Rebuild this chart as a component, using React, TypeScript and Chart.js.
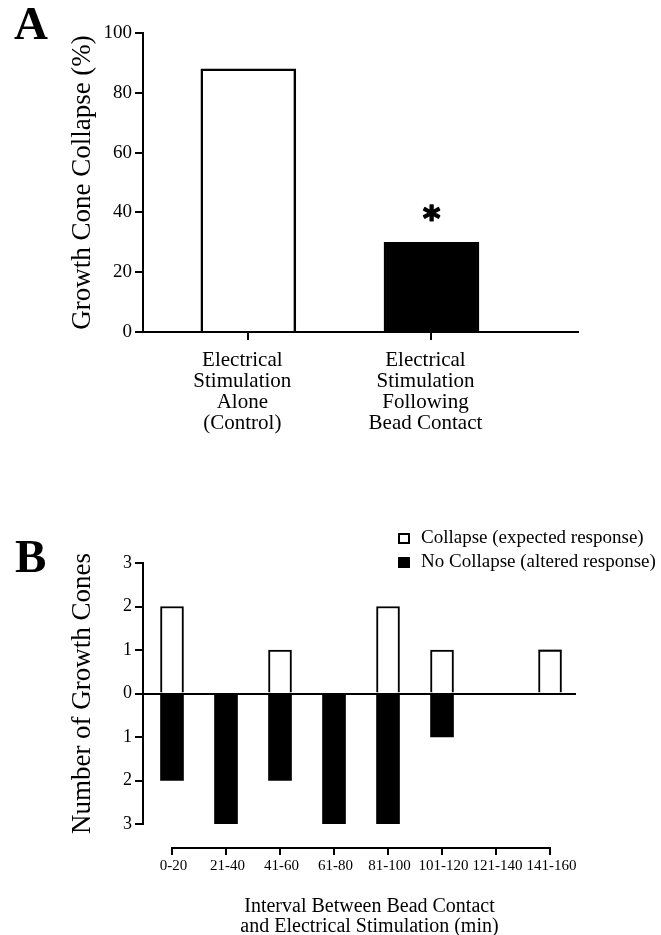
import React, { useEffect, useRef } from 'react';
import { Chart, registerables } from 'chart.js';

Chart.register(...registerables);

const SERIF = "'Liberation Serif', 'Times New Roman', serif";
Chart.defaults.font.family = SERIF;
Chart.defaults.color = '#000';

// ---------- Panel A data ----------
const conditionLabels: string[][] = [
  ['Electrical', 'Stimulation', 'Alone', '(Control)'],
  ['Electrical', 'Stimulation', 'Following', 'Bead Contact'],
];
const collapsePercent: number[] = [88, 30];
const yTitleA = 'Growth Cone Collapse (%)';

// ---------- Panel B data ----------
const intervalLabels: string[] = ['0-20', '21-40', '41-60', '61-80', '81-100', '101-120', '121-140', '141-160'];
const collapseCounts: number[] = [2, 0, 1, 0, 2, 1, 0, 1];
const noCollapseCounts: number[] = [2, 3, 2, 3, 3, 1, 0, 0];
const seriesLabelsB: string[] = ['Collapse (expected response)', 'No Collapse (altered response)'];
const yTitleB = 'Number of Growth Cones';
const xTitleB: string[] = ['Interval Between Bead Contact', 'and Electrical Stimulation (min)'];

const W = 661;
const HA = 470;
const HB = 465;

function panelLabel(text: string, x: number, baseline: number) {
  return {
    id: 'panelLabel' + text,
    afterDraw(chart: any) {
      const ctx = chart.ctx;
      ctx.save();
      ctx.font = `bold 47px ${SERIF}`;
      ctx.fillStyle = '#000';
      ctx.textAlign = 'left';
      ctx.textBaseline = 'alphabetic';
      ctx.fillText(text, x, baseline);
      ctx.restore();
    },
  };
}

const asteriskPlugin = {
  id: 'asterisk',
  afterDatasetsDraw(chart: any) {
    const { ctx, scales } = chart;
    const cx = scales.x.getPixelForValue(2);
    const cy = scales.y.getPixelForValue(collapsePercent[1]) - 29;
    ctx.save();
    ctx.font = `bold 100px 'DejaVu Sans'`;
    let m = ctx.measureText('*');
    const h = m.actualBoundingBoxAscent + m.actualBoundingBoxDescent;
    const size = (100 * 15.5) / (h || 40);
    ctx.font = `bold ${size}px 'DejaVu Sans'`;
    m = ctx.measureText('*');
    const gw = m.actualBoundingBoxRight + m.actualBoundingBoxLeft;
    const x = cx - gw / 2 + m.actualBoundingBoxLeft;
    const y = cy + (m.actualBoundingBoxAscent - m.actualBoundingBoxDescent) / 2;
    ctx.fillStyle = '#000';
    ctx.strokeStyle = '#000';
    ctx.lineWidth = 1.6;
    ctx.lineJoin = 'round';
    ctx.textAlign = 'left';
    ctx.textBaseline = 'alphabetic';
    ctx.fillText('*', x, y);
    ctx.strokeText('*', x, y);
    ctx.restore();
  },
};

const offsetAxisB = {
  id: 'offsetAxisB',
  afterDraw(chart: any) {
    const { ctx, chartArea, scales } = chart;
    const x = scales.x;
    const y0 = chartArea.bottom + 24;
    const x0 = x.getPixelForValue(0);
    const x1 = x.getPixelForValue(intervalLabels.length - 1);
    ctx.save();
    ctx.strokeStyle = '#000';
    ctx.lineWidth = 2;
    ctx.beginPath();
    ctx.moveTo(x0 - 1, y0);
    ctx.lineTo(x1 + 1, y0);
    intervalLabels.forEach((_, i) => {
      const px = Math.round(x.getPixelForValue(i));
      ctx.moveTo(px, y0);
      ctx.lineTo(px, y0 + 7);
    });
    ctx.stroke();
    ctx.font = `20px ${SERIF}`;
    ctx.fillStyle = '#000';
    ctx.textAlign = 'center';
    ctx.textBaseline = 'alphabetic';
    const cx = (chartArea.left + chartArea.right) / 2 + 10;
    xTitleB.forEach((t, i) => ctx.fillText(t, cx, chartArea.bottom + 88 + i * 20));
    ctx.restore();
  },
};

const legendB = {
  id: 'legendB',
  afterDraw(chart: any) {
    const ctx = chart.ctx;
    ctx.save();
    ctx.font = `19px ${SERIF}`;
    ctx.textAlign = 'left';
    ctx.textBaseline = 'alphabetic';
    chart.data.datasets.forEach((ds: any, i: number) => {
      const base = 73 + i * 24;
      const bx = 398;
      ctx.fillStyle = ds.backgroundColor;
      ctx.fillRect(bx, base - 10, 12, 11);
      ctx.strokeStyle = '#000';
      ctx.lineWidth = 2;
      ctx.strokeRect(bx + 1, base - 9, 10, 9);
      ctx.fillStyle = '#000';
      ctx.fillText(ds.label, 421, base);
    });
    ctx.restore();
  },
};

export default function App() {
  const refA = useRef<HTMLCanvasElement>(null);
  const refB = useRef<HTMLCanvasElement>(null);

  useEffect(() => {
    if (!refA.current || !refB.current) return;

    const chartA = new Chart(refA.current, {
      type: 'bar',
      data: {
        datasets: [
          {
            label: 'Growth cone collapse',
            data: collapsePercent.map((v, i) => ({ x: i + 1, y: v })) as any,
            backgroundColor: ['#ffffff', '#000000'],
            borderColor: '#000000',
            borderWidth: 2.5,
            barThickness: 95,
          },
        ],
      },
      options: {
        responsive: false,
        animation: false,
        layout: { padding: { left: 0, right: W - 578, top: 33, bottom: 0 } },
        plugins: { legend: { display: false }, tooltip: { enabled: false } },
        scales: {
          x: {
            type: 'linear',
            min: 0.425,
            max: 2.8,
            offset: false,
            afterBuildTicks: (s: any) => {
              s.ticks = conditionLabels.map((_, i) => ({ value: i + 1 }));
            },
            afterFit: (s: any) => {
              s.height = HA - 332;
            },
            ticks: {
              callback: (v: any) => conditionLabels[Number(v) - 1] ?? '',
              font: { size: 21, lineHeight: 1 },
              color: '#000',
              padding: 10,
              labelOffset: -6,
              maxRotation: 0,
              autoSkip: false,
            },
            grid: {
              display: true,
              drawOnChartArea: false,
              drawTicks: true,
              tickLength: 8,
              tickColor: '#000',
              lineWidth: 2,
              offset: false,
            },
            border: { display: true, color: '#000', width: 2 },
          },
          y: {
            min: 0,
            max: 100,
            ticks: { stepSize: 20, font: { size: 19 }, color: '#000', padding: 3 },
            grid: {
              drawOnChartArea: false,
              drawTicks: true,
              tickLength: 8,
              tickColor: '#000',
              lineWidth: 2,
            },
            border: { display: true, color: '#000', width: 2 },
            title: {
              display: true,
              text: yTitleA,
              font: { size: 27, lineHeight: 1 },
              color: '#000',
              padding: { top: 69.5, bottom: 0 },
            },
            afterFit: (s: any) => {
              s.width = 143;
            },
          },
        },
      } as any,
      plugins: [panelLabel('A', 14, 39), asteriskPlugin],
    });

    const chartB = new Chart(refB.current, {
      type: 'bar',
      data: {
        datasets: [
          {
            label: seriesLabelsB[0],
            data: collapseCounts.map((v, i) => ({ x: i, y: v })) as any,
            backgroundColor: '#ffffff',
            borderColor: '#000000',
            borderWidth: 2,
            barThickness: 23,
          },
          {
            label: seriesLabelsB[1],
            data: noCollapseCounts.map((v, i) => ({ x: i, y: -v })) as any,
            backgroundColor: '#000000',
            borderColor: '#000000',
            borderWidth: 0,
            barThickness: 23,
          },
        ],
      },
      options: {
        responsive: false,
        animation: false,
        layout: { padding: { left: 0, right: W - 576, top: 93, bottom: 0 } },
        plugins: { legend: { display: false }, tooltip: { enabled: false } },
        scales: {
          x: {
            type: 'linear',
            min: -0.537,
            max: 7.481,
            offset: false,
            stacked: true,
            afterBuildTicks: (s: any) => {
              s.ticks = intervalLabels.map((_, i) => ({ value: i }));
            },
            afterFit: (s: any) => {
              s.height = HB - 354;
            },
            ticks: {
              callback: (v: any) => intervalLabels[Number(v)] ?? '',
              font: { size: 15, lineHeight: 1.2 },
              color: '#000',
              padding: 33,
              labelOffset: 1.5,
              maxRotation: 0,
              autoSkip: false,
            },
            grid: { display: false, drawTicks: false, offset: false },
            border: { display: false },
          },
          y: {
            min: -3,
            max: 3,
            stacked: true,
            ticks: {
              stepSize: 1,
              callback: (v: any) => String(Math.abs(Number(v))),
              font: { size: 18 },
              color: '#000',
              padding: 3,
            },
            grid: {
              drawOnChartArea: true,
              drawTicks: true,
              tickLength: 8,
              tickColor: '#000',
              lineWidth: 2,
              color: (c: any) => (c.tick && c.tick.value === 0 ? '#000' : 'rgba(0,0,0,0)'),
            },
            border: { display: true, color: '#000', width: 2 },
            title: {
              display: true,
              text: yTitleB,
              font: { size: 27, lineHeight: 1 },
              color: '#000',
              padding: { top: 69.5, bottom: 0 },
            },
            afterFit: (s: any) => {
              s.width = 143;
            },
          },
        },
      } as any,
      plugins: [panelLabel('B', 15, 102), offsetAxisB, legendB],
    });

    return () => {
      chartA.destroy();
      chartB.destroy();
    };
  }, []);

  return (
    <div style={{ position: 'absolute', left: 0, top: 0, width: W, height: HA + HB, background: '#fff', overflow: 'hidden' }}>
      <canvas ref={refA} width={W} height={HA} style={{ position: 'absolute', left: 0, top: 0, width: W, height: HA }} />
      <canvas ref={refB} width={W} height={HB} style={{ position: 'absolute', left: 0, top: HA, width: W, height: HB }} />
    </div>
  );
}
